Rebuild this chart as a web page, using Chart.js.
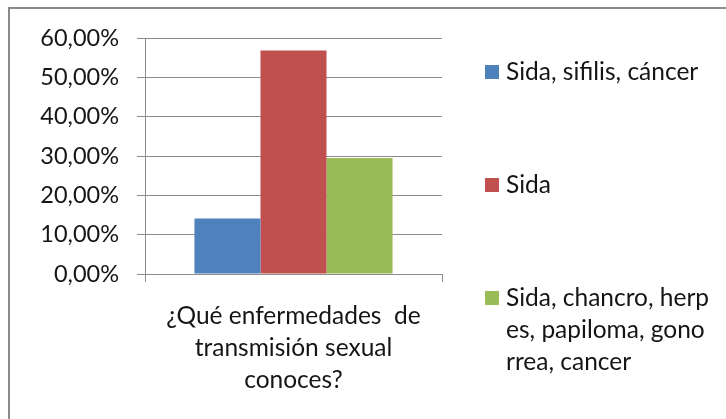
<!DOCTYPE html>
<html>
<head>
<meta charset="utf-8">
<script src="https://cdn.jsdelivr.net/npm/chart.js@4.4.0/dist/chart.umd.min.js"></script>
<style>
  html, body { margin: 0; padding: 0; background: #fff; overflow: hidden; }
  #wrap { position: relative; width: 726px; height: 419px; }
  #frame {
    position: absolute; left: 8px; top: 7px; width: 800px; height: 500px;
    border: 2px solid #8a8a8a; box-sizing: border-box;
  }
  canvas { position: absolute; left: 0; top: 0; }
</style>
</head>
<body>
<div id="wrap">
  <div id="frame"></div>
  <canvas id="chart" width="726" height="419"></canvas>
</div>
<script>
// Chart data
const categoryLines = ['¿Qué enfermedades  de', 'transmisión sexual', 'conoces?'];
const seriesLines = [
  ['Sida, sifilis, cáncer'],
  ['Sida'],
  ['Sida, chancro, herp', 'es, papiloma, gono', 'rrea, cancer']
];
const seriesValues = [14.1, 56.8, 29.5];
const seriesColors = ['#4F81BD', '#C0504D', '#9BBB59'];
const yTicks = [0, 10, 20, 30, 40, 50, 60];

const FONT = 'Lato';
const TEXT = '#151515';
const GRID = '#8c8c8c';

// Legend drawn on the right, Excel style
const sideLegend = {
  id: 'sideLegend',
  afterDraw(chart) {
    const ctx = chart.ctx;
    ctx.save();
    ctx.font = '24.5px ' + FONT;
    ctx.textBaseline = 'middle';
    ctx.textAlign = 'left';
    chart.data.datasets.forEach((ds, i) => {
      const y0 = 72 + i * 113;
      ctx.fillStyle = ds.backgroundColor;
      ctx.fillRect(485, y0 - 7, 14, 14);
      ctx.fillStyle = TEXT;
      ds.legendLines.forEach((line, k) => {
        ctx.fillText(line, 506, y0 + k * 32);
      });
    });
    ctx.restore();
  }
};

new Chart(document.getElementById('chart'), {
  type: 'bar',
  data: {
    labels: [categoryLines],
    datasets: seriesLines.map((lines, i) => ({
      label: lines.join(''),
      legendLines: lines,
      data: [seriesValues[i]],
      backgroundColor: seriesColors[i],
      borderWidth: 0,
      categoryPercentage: 0.667,
      barPercentage: 1
    }))
  },
  options: {
    responsive: false,
    animation: false,
    layout: { padding: { left: 0, top: 38, right: 284, bottom: 0 } },
    plugins: {
      legend: { display: false },
      tooltip: { enabled: false }
    },
    scales: {
      y: {
        min: 0,
        max: 60,
        afterFit(scale) { scale.width = 145; },
        afterBuildTicks(scale) { scale.ticks = yTicks.map(v => ({ value: v })); },
        ticks: {
          padding: 18,
          color: TEXT,
          font: { family: FONT, size: 23.5 },
          callback: v => v.toFixed(2).replace('.', ',') + '%'
        },
        grid: { color: GRID, lineWidth: 1, tickLength: 8 },
        border: { color: GRID, width: 1 }
      },
      x: {
        afterFit(scale) { scale.height = 145; },
        ticks: {
          padding: 18,
          maxRotation: 0,
          autoSkip: false,
          color: TEXT,
          font: { family: FONT, size: 24.5, lineHeight: '32px' }
        },
        grid: { offset: true, drawOnChartArea: false, color: GRID, tickLength: 8 },
        border: { color: GRID, width: 1 }
      }
    }
  },
  plugins: [sideLegend]
});
</script>
</body>
</html>
